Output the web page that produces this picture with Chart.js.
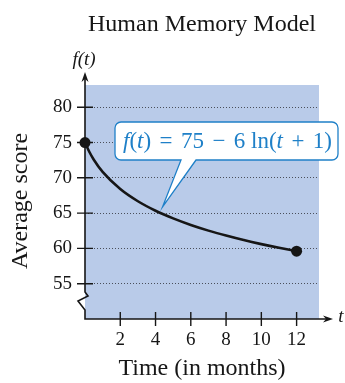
<!DOCTYPE html>
<html>
<head>
<meta charset="utf-8">
<script src="https://cdn.jsdelivr.net/npm/chart.js@4/dist/chart.umd.min.js"></script>
<style>
  html, body { margin: 0; padding: 0; background: #fff; }
  canvas { display: block; }
</style>
</head>
<body>
<canvas id="memory" width="345" height="383"></canvas>
<script>
// months since the test, and the average score f(t) = 75 - 6 ln(t + 1)
const months = [0, 0.25, 0.5, 1, 2, 3, 4, 5, 6, 7, 8, 9, 10, 11, 12];
const scores = [75, 73.66, 72.57, 70.84, 68.41, 66.68, 65.34, 64.25, 63.32, 62.52, 61.82, 61.18, 60.61, 60.09, 59.61];
const xTicks = [2, 4, 6, 8, 10, 12];
const yTicks = [55, 60, 65, 70, 75, 80];

const SERIF = "'Liberation Serif', 'Times New Roman', serif";
const INK = "#161616";
const BLUE_BG = "#b9cbe9";
const CALLOUT = "#1f80c8";

function arrowHead(ctx, x, y, dir) {
    ctx.beginPath();
    if (dir === "up") {
        ctx.moveTo(x, y);
        ctx.lineTo(x - 3.5, y + 10);
        ctx.lineTo(x, y + 7);
        ctx.lineTo(x + 3.5, y + 10);
    } else {
        ctx.moveTo(x, y);
        ctx.lineTo(x - 10, y - 3.5);
        ctx.lineTo(x - 7, y);
        ctx.lineTo(x - 10, y + 3.5);
    }
    ctx.closePath();
    ctx.fill();
}

const decor = {
    id: "decor",
    beforeDraw(chart) {
        const { ctx, chartArea: a } = chart;
        ctx.save();
        ctx.fillStyle = BLUE_BG;
        ctx.fillRect(a.left, a.top, a.right - a.left, a.bottom - a.top);
        ctx.restore();
    },
    beforeDatasetsDraw(chart) {
        const { ctx, chartArea: a, scales } = chart;
        const x0 = a.left, yb = a.bottom;
        ctx.save();
        ctx.strokeStyle = INK;
        ctx.fillStyle = INK;
        ctx.lineWidth = 1.6;

        // vertical axis with a break near the bottom
        ctx.beginPath();
        ctx.moveTo(x0, a.top - 8);
        ctx.lineTo(x0, 292);
        ctx.lineTo(x0 + 3, 296);
        ctx.lineTo(x0 - 7, 301);
        ctx.lineTo(x0, 310);
        ctx.lineTo(x0, yb);
        ctx.lineTo(a.right + 8, yb);
        ctx.stroke();
        arrowHead(ctx, x0, a.top - 13, "up");
        arrowHead(ctx, a.right + 14, yb, "right");

        // tick marks
        ctx.lineWidth = 1.4;
        ctx.beginPath();
        yTicks.forEach(v => {
            const y = scales.y.getPixelForValue(v);
            ctx.moveTo(x0 - 8, y);
            ctx.lineTo(x0 + 8, y);
        });
        xTicks.forEach(v => {
            const x = scales.x.getPixelForValue(v);
            ctx.moveTo(x, yb - 7);
            ctx.lineTo(x, yb + 7);
        });
        ctx.stroke();
        ctx.restore();
    },
    afterDraw(chart) {
        const { ctx, chartArea: a, scales } = chart;
        ctx.save();
        ctx.fillStyle = INK;
        ctx.textAlign = "center";
        ctx.textBaseline = "middle";

        ctx.font = "24px " + SERIF;
        ctx.fillText("Human Memory Model", (a.left + a.right) / 2, 25);
        ctx.fillText("Time (in months)", (a.left + a.right) / 2, 369);

        ctx.save();
        ctx.translate(21, 201);
        ctx.rotate(-Math.PI / 2);
        ctx.fillText("Average score", 0, 0);
        ctx.restore();

        ctx.font = "italic 19px " + SERIF;
        ctx.fillText("f(t)", a.left - 1, 60);
        ctx.fillText("t", 341, a.bottom - 2);

        // formula callout
        const bx = 115, by = 122, bw = 223, bh = 38, r = 6;
        const tipX = scales.x.getPixelForValue(4.4);
        const tipY = scales.y.getPixelForValue(65.9);
        ctx.beginPath();
        ctx.moveTo(bx + r, by);
        ctx.lineTo(bx + bw - r, by);
        ctx.arcTo(bx + bw, by, bx + bw, by + r, r);
        ctx.lineTo(bx + bw, by + bh - r);
        ctx.arcTo(bx + bw, by + bh, bx + bw - r, by + bh, r);
        ctx.lineTo(196, by + bh);
        ctx.lineTo(tipX, tipY);
        ctx.lineTo(181, by + bh);
        ctx.lineTo(bx + r, by + bh);
        ctx.arcTo(bx, by + bh, bx, by + bh - r, r);
        ctx.lineTo(bx, by + r);
        ctx.arcTo(bx, by, bx + r, by, r);
        ctx.closePath();
        ctx.fillStyle = "#fff";
        ctx.fill();
        ctx.strokeStyle = CALLOUT;
        ctx.lineWidth = 1.3;
        ctx.stroke();

        // formula tokens: [italic?, text, gap after]; "g" marks operator spacing
        const tokens = [
            [1, "f", 0], [0, "(", 0], [1, "t", 0], [0, ")", "g"], [0, "=", "g"], [0, "75", "g"],
            [0, "\u2212", "g"], [0, "6 ln(", 0], [1, "t", "g"], [0, "+", "g"], [0, "1)", 0]
        ];
        const size = 23;
        const textWidth = 209;
        const font = tk => (tk[0] ? "italic " : "") + size + "px " + SERIF;
        let used = 0, gaps = 0;
        tokens.forEach(tk => {
            ctx.font = font(tk);
            used += ctx.measureText(tk[1]).width;
            if (tk[2] === "g") gaps++;
        });
        const g = (textWidth - used) / gaps;
        let x = bx + bw / 2 - textWidth / 2 + 1;
        ctx.textAlign = "left";
        ctx.fillStyle = CALLOUT;
        tokens.forEach(tk => {
            ctx.font = font(tk);
            ctx.fillText(tk[1], x, by + bh / 2 + 1);
            x += ctx.measureText(tk[1]).width + (tk[2] === "g" ? g : 0);
        });
        ctx.restore();
    }
};

new Chart(document.getElementById("memory"), {
    type: "line",
    data: {
        labels: months,
        datasets: [{
            data: months.map((t, i) => ({ x: t, y: scores[i] })),
            borderColor: INK,
            borderWidth: 2.6,
            cubicInterpolationMode: "monotone",
            pointRadius: ctx => (ctx.dataIndex === 0 || ctx.dataIndex === months.length - 1) ? 5.5 : 0,
            pointBackgroundColor: INK,
            pointBorderWidth: 0,
            clip: false
        }]
    },
    options: {
        responsive: false,
        animation: false,
        events: [],
        layout: { padding: { top: 85, right: 26, left: 0, bottom: 0 } },
        plugins: { legend: { display: false }, tooltip: { enabled: false }, title: { display: false } },
        scales: {
            x: {
                type: "linear",
                min: 0,
                max: 13.27,
                afterFit: s => { s.height = 64; },
                afterBuildTicks: s => { s.ticks = xTicks.map(v => ({ value: v })); },
                grid: { display: false, drawTicks: false },
                border: { display: false },
                ticks: { color: INK, padding: 10, font: { family: SERIF, size: 19 } }
            },
            y: {
                min: 50,
                max: 83.15,
                afterFit: s => { s.width = 85; },
                afterBuildTicks: s => { s.ticks = yTicks.map(v => ({ value: v })); },
                grid: { color: "#4a4f5a", lineWidth: 1, drawTicks: false },
                border: { display: false, dash: [1, 2] },
                ticks: { color: INK, padding: 13, font: { family: SERIF, size: 19 } }
            }
        }
    },
    plugins: [decor]
});
</script>
</body>
</html>
